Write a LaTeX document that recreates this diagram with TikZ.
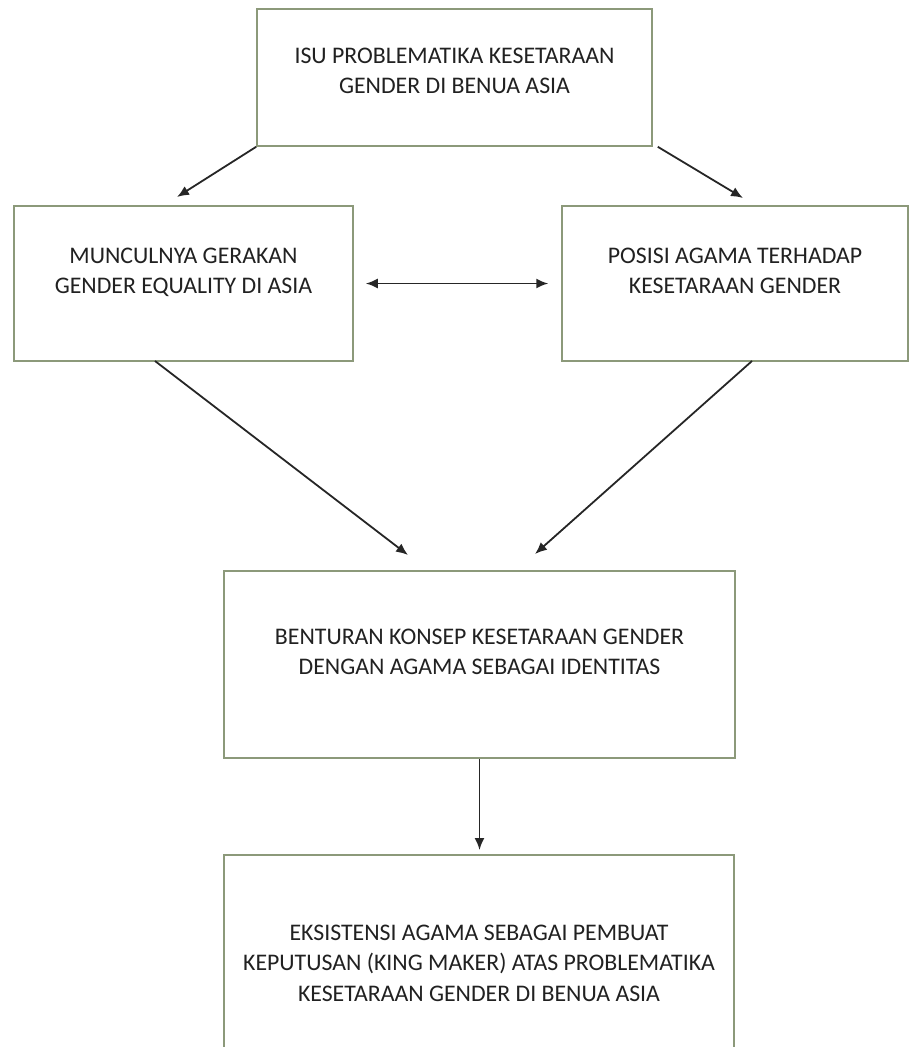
\documentclass[tikz,border=0pt]{standalone}
\usepackage{fontspec}
\setmainfont{Carlito}
\usetikzlibrary{arrows.meta}
\definecolor{BoxClr}{rgb}{0.55,0.6,0.48}
\definecolor{TxtClr}{rgb}{0.13,0.13,0.13}

\begin{document}
\begin{tikzpicture}[x=1pt,y=-1pt,
  kotak/.style={draw=BoxClr,line width=1.5pt,fill=white,rectangle,align=center,
    text=TxtClr,font=\fontsize{23.8}{30.5}\selectfont,inner sep=0pt},
  panah/.style={line width=1.8pt,color=black!85,-{Latex[length=12pt,width=10pt]}},
  panahdua/.style={line width=1.8pt,color=black!85,{Latex[length=12pt,width=10pt]}-{Latex[length=12pt,width=10pt]}}]
\useasboundingbox (0,0) rectangle (910,1047);

% kotak
\node[kotak,minimum width=395,minimum height=137,text depth=13pt] (isu) at (454.5,77.5)
  {ISU PROBLEMATIKA KESETARAAN\\GENDER DI BENUA ASIA};
\node[kotak,minimum width=339,minimum height=155,text depth=25pt] (gerakan) at (183.5,283.5)
  {MUNCULNYA GERAKAN\\GENDER EQUALITY DI ASIA};
\node[kotak,minimum width=346,minimum height=155,text depth=25pt] (posisi) at (735,283.5)
  {POSISI AGAMA TERHADAP\\KESETARAAN GENDER};
\node[kotak,minimum width=511,minimum height=187,text depth=25pt] (benturan) at (479.5,664.5)
  {BENTURAN KONSEP KESETARAAN GENDER\\DENGAN AGAMA SEBAGAI IDENTITAS};
\node[kotak,minimum width=510,minimum height=225,text depth=9pt] (eksistensi) at (479,967.5)
  {EKSISTENSI AGAMA SEBAGAI PEMBUAT\\KEPUTUSAN (KING MAKER) ATAS PROBLEMATIKA\\KESETARAAN GENDER DI BENUA ASIA};

% titik ujung panah
\coordinate (T1) at (177,197);
\coordinate (T2) at (743,198);
\coordinate (L1) at (155,361);
\coordinate (M1) at (408,555);
\coordinate (R1) at (752,361);
\coordinate (M2) at (535,554);
\coordinate (M3) at (479.5,850);

\draw[panah] (isu.south west) -- (T1);
\draw[panah] ([xshift=5pt]isu.south east) -- (T2);
\draw[panahdua,shorten <=12pt,shorten >=13pt] (gerakan.east) -- (posisi.west);
\draw[panah] (L1) -- (M1);
\draw[panah] (R1) -- (M2);
\draw[panah] (benturan.south) -- (M3);

\end{tikzpicture}
\end{document}
